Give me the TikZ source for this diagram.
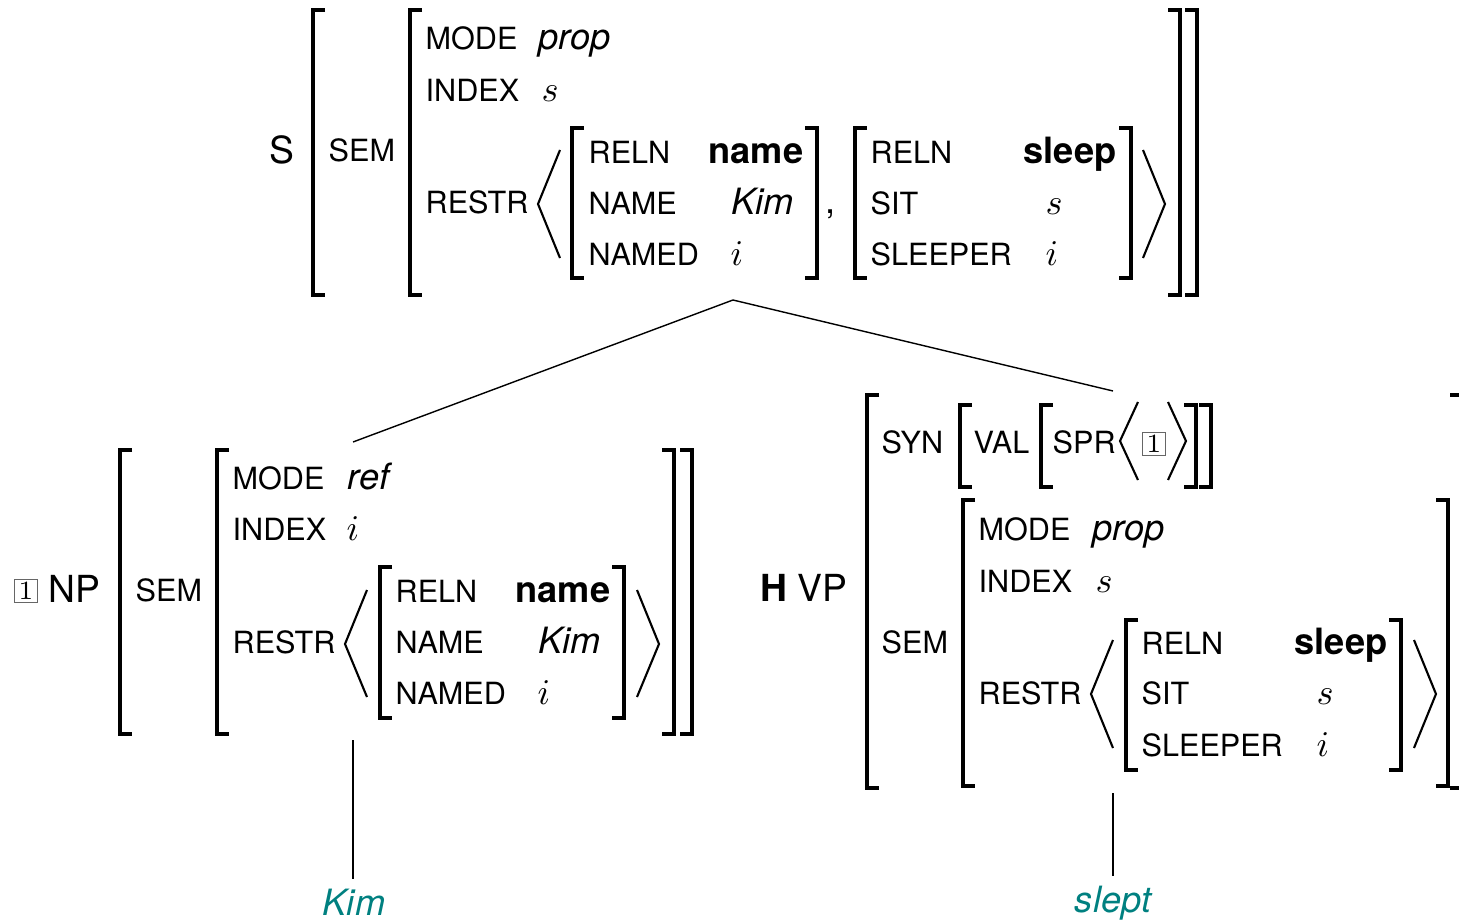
\RequirePackage{fix-cm}
\documentclass[tikz,border=0pt]{standalone}
\usepackage{fontspec}
\setsansfont{TeX Gyre Heros}

\begin{document}
\begin{tikzpicture}[x=0.01cm,y=-0.01cm,
        feat/.style={anchor=base west,inner sep=0,font=\sffamily\fontsize{8.7}{10}\selectfont},
        val/.style={anchor=base west,inner sep=0,font=\sffamily\fontsize{10.3}{12}\selectfont},
        cat/.style={anchor=base west,inner sep=0,font=\sffamily\fontsize{10.6}{12}\selectfont},
        word/.style={anchor=base,inner sep=2.5pt,text=teal,font=\sffamily\itshape\fontsize{10.3}{12}\selectfont},
        tag/.style={draw=black!60,line width=0.3pt,inner sep=0,minimum size=6.3pt,font=\fontsize{7.5}{8}\selectfont},
        brk/.style={line width=0.9pt},
        ang/.style={line width=0.6pt},
        branch/.style={line width=0.4pt}]
        \useasboundingbox (0,0) rectangle (1459,924);

        % S
        \node [cat] (s-cat) at (269,163) {S};
        \draw [brk] (325,10) -- (313,10) -- (313,295) -- (325,295);
        \node [feat] (s-sem) at (328,162) {SEM};
        \draw [brk] (422,10) -- (410,10) -- (410,295) -- (422,295);
        \node [feat] (s-mode) at (425,50) {MODE};
        \node [val] (s-modev) at (538,50) {\itshape prop};
        \node [feat] (s-index) at (425,101) {INDEX};
        \node [val] (s-indexv) at (541,101) {$s$};
        \node [feat] (s-restr) at (425,213) {RESTR};
        \draw [ang] (560,150) -- (538,204) -- (560,258);
        \draw [brk] (584,128) -- (572,128) -- (572,278) -- (584,278);
        \node [feat] (s-reln1) at (588,163) {RELN};
        \node [val] (s-relnv1) at (708,163) {\bfseries name};
        \node [feat] (s-name) at (588,214) {NAME};
        \node [val] (s-namev) at (731,214) {\itshape Kim};
        \node [feat] (s-named) at (588,265) {NAMED};
        \node [val] (s-namedv) at (730,265) {$i$};
        \draw [brk] (805,128) -- (817,128) -- (817,278) -- (805,278);
        \node [val] (s-comma) at (825,213) {,};
        \draw [brk] (867,128) -- (855,128) -- (855,278) -- (867,278);
        \node [feat] (s-reln2) at (870,163) {RELN};
        \node [val] (s-relnv2) at (1023,163) {\bfseries sleep};
        \node [feat] (s-sit) at (870,214) {SIT};
        \node [val] (s-sitv) at (1045,214) {$s$};
        \node [feat] (s-sleeper) at (870,265) {SLEEPER};
        \node [val] (s-sleeperv) at (1045,265) {$i$};
        \draw [brk] (1119,128) -- (1131,128) -- (1131,278) -- (1119,278);
        \draw [ang] (1143,150) -- (1165,204) -- (1143,258);
        \draw [brk] (1168,10) -- (1180,10) -- (1180,295) -- (1168,295);
        \draw [brk] (1185,10) -- (1197,10) -- (1197,295) -- (1185,295);

        % NP
        \node [tag] (np-tag) at (26,591) {$1$};
        \node [cat] (np-cat) at (48,602) {NP};
        \draw [brk] (132,450) -- (120,450) -- (120,734) -- (132,734);
        \node [feat] (np-sem) at (135,601) {SEM};
        \draw [brk] (229,450) -- (217,450) -- (217,734) -- (229,734);
        \node [feat] (np-mode) at (232,489) {MODE};
        \node [val] (np-modev) at (347,489) {\itshape ref};
        \node [feat] (np-index) at (232,540) {INDEX};
        \node [val] (np-indexv) at (346,540) {$i$};
        \node [feat] (np-restr) at (232,653) {RESTR};
        \draw [ang] (367,590) -- (345,644) -- (367,697);
        \draw [brk] (392,567) -- (380,567) -- (380,718) -- (392,718);
        \node [feat] (np-reln) at (395,602) {RELN};
        \node [val] (np-relnv) at (515,602) {\bfseries name};
        \node [feat] (np-name) at (395,653) {NAME};
        \node [val] (np-namev) at (538,653) {\itshape Kim};
        \node [feat] (np-named) at (395,704) {NAMED};
        \node [val] (np-namedv) at (537,704) {$i$};
        \draw [brk] (612,567) -- (624,567) -- (624,718) -- (612,718);
        \draw [ang] (637,590) -- (659,644) -- (637,697);
        \draw [brk] (662,450) -- (674,450) -- (674,734) -- (662,734);
        \draw [brk] (680,450) -- (692,450) -- (692,734) -- (680,734);

        % VP
        \node [cat] (vp-cat) at (760,601) {\bfseries H \mdseries VP};
        \draw [brk] (879,395) -- (867,395) -- (867,788) -- (879,788);
        \node [feat] (vp-syn) at (881,453) {SYN};
        \draw [brk] (972,405) -- (960,405) -- (960,487) -- (972,487);
        \node [feat] (vp-val) at (973,453) {VAL};
        \draw [brk] (1053,405) -- (1041,405) -- (1041,487) -- (1053,487);
        \node [feat] (vp-spr) at (1052,453) {SPR};
        \draw [ang] (1138,402) -- (1120,441) -- (1138,480);
        \node [tag] (vp-tag) at (1154,444) {$1$};
        \draw [ang] (1168,402) -- (1186,441) -- (1168,480);
        \draw [brk] (1184,405) -- (1196,405) -- (1196,487) -- (1184,487);
        \draw [brk] (1199,405) -- (1211,405) -- (1211,487) -- (1199,487);
        \node [feat] (vp-sem) at (881,653) {SEM};
        \draw [brk] (975,500) -- (963,500) -- (963,786) -- (975,786);
        \node [feat] (vp-mode) at (978,541) {MODE};
        \node [val] (vp-modev) at (1092,541) {\itshape prop};
        \node [feat] (vp-index) at (978,592) {INDEX};
        \node [val] (vp-indexv) at (1095,592) {$s$};
        \node [feat] (vp-restr) at (978,704) {RESTR};
        \draw [ang] (1113,640) -- (1091,694) -- (1113,748);
        \draw [brk] (1138,620) -- (1126,620) -- (1126,770) -- (1138,770);
        \node [feat] (vp-reln) at (1141,654) {RELN};
        \node [val] (vp-relnv) at (1294,654) {\bfseries sleep};
        \node [feat] (vp-sit) at (1141,705) {SIT};
        \node [val] (vp-sitv) at (1316,705) {$s$};
        \node [feat] (vp-sleeper) at (1141,756) {SLEEPER};
        \node [val] (vp-sleeperv) at (1316,756) {$i$};
        \draw [brk] (1389,620) -- (1401,620) -- (1401,770) -- (1389,770);
        \draw [ang] (1414,640) -- (1436,694) -- (1414,748);
        \draw [brk] (1436,500) -- (1448,500) -- (1448,786) -- (1436,786);
        \draw [brk] (1450,395) -- (1462,395) -- (1462,788) -- (1450,788);

        % words and branches
        \node [word] (kim) at (354,915) {Kim};
        \node [word] (slept) at (1113,912) {slept};
        \coordinate (s-foot) at (733,300);
        \coordinate (np-top) at (353,442);
        \coordinate (vp-top) at (1113,391);
        \coordinate (np-foot) at (353,740);
        \coordinate (vp-foot) at (1113,793);
        \draw [branch] (s-foot) -- (np-top);
        \draw [branch] (s-foot) -- (vp-top);
        \draw [branch] (np-foot) -- (np-foot |- kim.north);
        \draw [branch] (vp-foot) -- (vp-foot |- slept.north);
\end{tikzpicture}
\end{document}
